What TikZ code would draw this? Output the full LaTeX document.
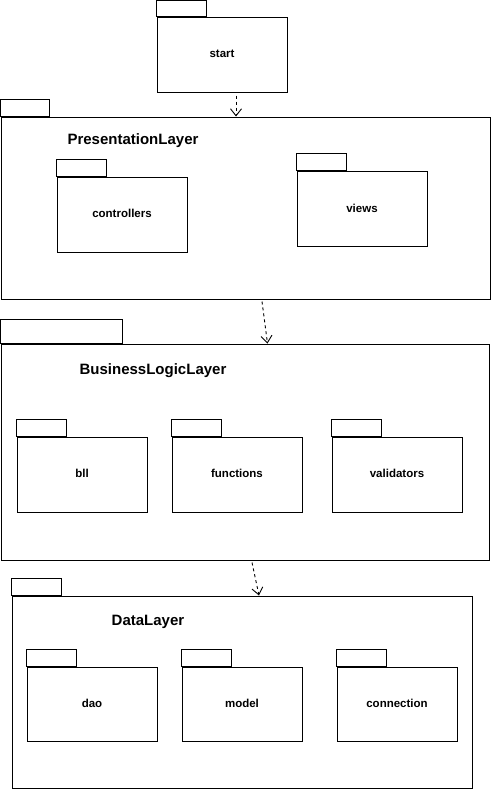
\documentclass[tikz,border=0pt]{standalone}
\usepackage{fontspec}
\setmainfont{Liberation Sans}
\usetikzlibrary{arrows.meta}
\begin{document}
\begin{tikzpicture}[x=1pt,y=-1pt,
  pkgbody/.style={draw=black,line width=1pt,fill=white,rectangle,inner sep=0pt,
    font=\fontsize{11.5}{13}\selectfont\bfseries},
  small/.style={pkgbody,minimum width=130pt,minimum height=75pt},
  layerlabel/.style={inner sep=0pt,font=\fontsize{15}{18}\selectfont\bfseries},
  dep/.style={draw=black,line width=0.9pt,dash pattern=on 3pt off 3pt,
    -{Straight Barb[length=7pt,width=11pt,line width=0.9pt]}}]
\useasboundingbox (0,0) rectangle (491,790);
\fill[white] (0,0) rectangle (491,790);

% start
\node[small] (start) at (222,54.5) {\raisebox{2pt}{start}};
\draw[line width=1pt] (start.north west) rectangle ++(50,-16.5);

% Presentation layer
\node[pkgbody,minimum width=489pt,minimum height=182pt] (pres) at (245.5,208) {};
\draw[line width=1pt] (pres.north west) rectangle ++(49,-17);
\node[layerlabel] (presl) at (133,141) {PresentationLayer};
\node[small] (ctrl) at (122,214.5) {\raisebox{2pt}{controllers}};
\draw[line width=1pt] (ctrl.north west) rectangle ++(50,-17);
\node[small] (views) at (362,208.5) {\raisebox{1pt}{views}};
\draw[line width=1pt] (views.north west) rectangle ++(50,-17);

% Business logic layer
\node[pkgbody,minimum width=488pt,minimum height=216pt] (blayer) at (245,452) {};
\draw[line width=1pt] (blayer.north west) rectangle ++(122,-24);
\node[layerlabel] (blayerl) at (153,371) {BusinessLogicLayer};
\node[small] (bll) at (82,474.5) {\raisebox{2pt}{bll}};
\draw[line width=1pt] (bll.north west) rectangle ++(50,-17);
\node[small] (func) at (237,474.5) {\raisebox{2pt}{functions}};
\draw[line width=1pt] (func.north west) rectangle ++(50,-17);
\node[small] (valid) at (397,474.5) {\raisebox{2pt}{validators}};
\draw[line width=1pt] (valid.north west) rectangle ++(50,-17);

% Data layer
\node[pkgbody,minimum width=460pt,minimum height=192pt] (dlayer) at (242,692) {};
\draw[line width=1pt] (dlayer.north west) rectangle ++(50,-17.5);
\node[layerlabel] (dlayerl) at (148,622) {DataLayer};
\node[small,minimum height=74pt] (dao) at (92,704) {\raisebox{2pt}{dao}};
\draw[line width=1pt] (dao.north west) rectangle ++(50,-17.5);
\node[small,minimum width=120pt,minimum height=74pt] (model) at (242,704) {\raisebox{2pt}{model}};
\draw[line width=1pt] (model.north west) rectangle ++(50,-17.5);
\node[small,minimum width=120pt,minimum height=74pt] (conn) at (397,704) {\raisebox{2pt}{connection}};
\draw[line width=1pt] (conn.north west) rectangle ++(50,-17.5);

% dependencies
\coordinate (a1s) at ([xshift=14pt,yshift=-3pt]start.south);
\draw[dep] (a1s) -- (a1s |- pres.north);
\coordinate (a2s) at ([xshift=16.5pt,yshift=-2pt]pres.south);
\coordinate (a2e) at ([xshift=22.5pt]blayer.north);
\draw[dep] (a2s) -- (a2e);
\coordinate (a3s) at ([xshift=7pt,yshift=-2pt]blayer.south);
\coordinate (a3e) at ([xshift=17pt]dlayer.north);
\draw[dep] (a3s) -- (a3e);
\end{tikzpicture}
\end{document}
